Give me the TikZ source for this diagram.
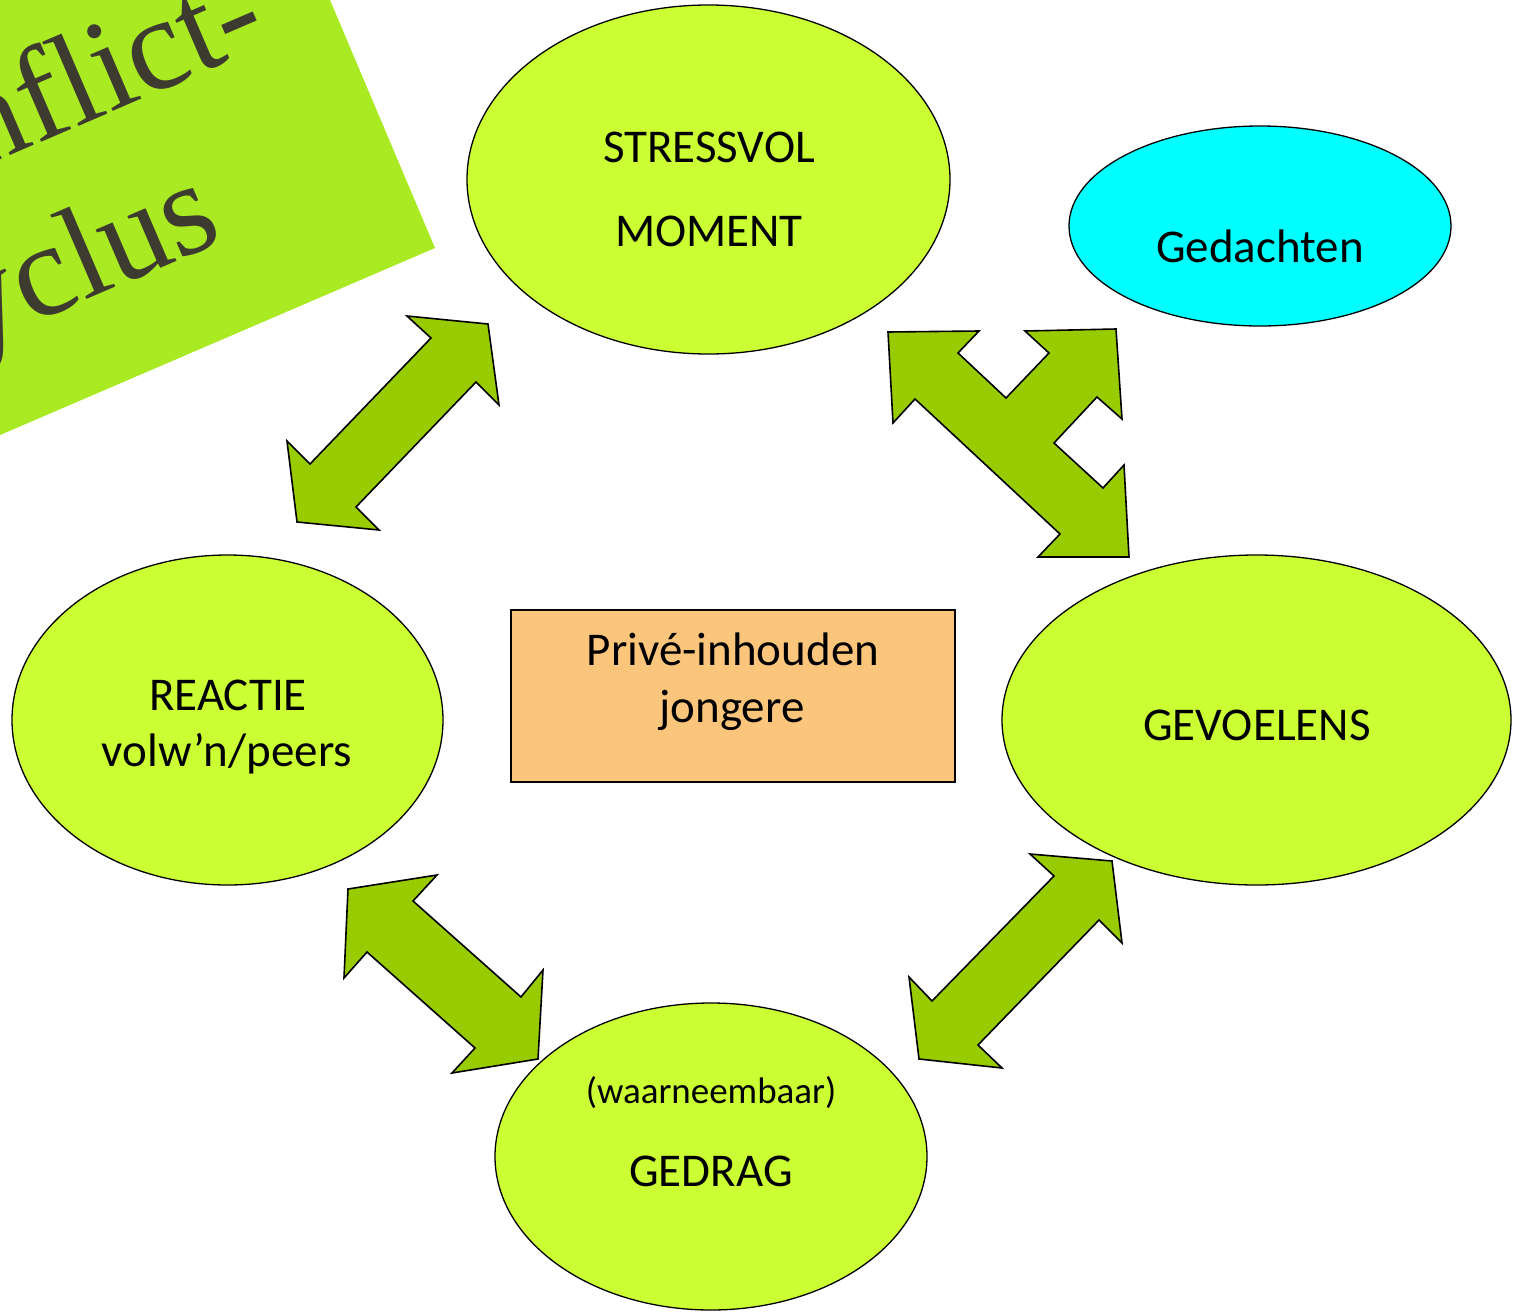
\documentclass[tikz,border=0pt]{standalone}
\usepackage{fontspec}
\setmainfont{Carlito}
\newfontfamily\titlefont{Liberation Serif}
\usetikzlibrary{shapes.geometric}
\definecolor{ellgreen}{HTML}{CCFF33}
\definecolor{arrgreen}{HTML}{99CC00}
\definecolor{titlegreen}{HTML}{AAEA23}
\definecolor{titletext}{HTML}{3D3B30}
\definecolor{cyanfill}{HTML}{00FFFF}
\definecolor{boxorange}{HTML}{FCC57C}
\tikzset{
  ell/.style={ellipse, draw=black, line width=1.3pt, inner sep=0pt},
  blockarrow/.style={draw=black, fill=arrgreen, line width=1.6pt, line join=miter},
  lbl/.style={anchor=base, inner sep=0pt, font=\fontsize{47}{56}\selectfont},
  lblsmall/.style={anchor=base, inner sep=0pt, font=\fontsize{37}{44}\selectfont},
  ttl/.style={anchor=base east, inner sep=0pt, rotate=23.3, text=titletext,
    font=\titlefont\fontsize{132}{158}\selectfont}
}
\begin{document}
\begin{tikzpicture}[x=1pt,y=-1pt]
\useasboundingbox (0,0) rectangle (1519,1312);
\clip (0,0) rectangle (1519,1312);
% title block
\fill[titlegreen] (435,248) -- (225,-248) -- (-800,-248) -- (-800,779) -- cycle;
\node[ttl] (t1) at (272,43) {Conflict-};
\node[ttl] (t2) at (226,240) {cyclus};
% ellipses
\node[ell, fill=ellgreen, minimum width=483, minimum height=349] (stress) at (708.5,179.5) {};
\node[ell, fill=cyanfill, minimum width=382, minimum height=200] (ged) at (1260,226) {};
\node[ell, fill=ellgreen, minimum width=431, minimum height=330] (reac) at (227.5,720) {};
\node[ell, fill=ellgreen, minimum width=509, minimum height=330] (gevo) at (1256.5,720) {};
\node[ell, fill=ellgreen, minimum width=432, minimum height=307] (gedr) at (711,1156.5) {};
% central box
\node[draw=black, line width=1.3pt, fill=boxorange, minimum width=444, minimum height=172, inner sep=0pt] (box) at (733,696) {};
% labels
\node[lbl] (s1) at (709,162) {STRESSVOL};
\node[lbl] (s2) at (709,246) {MOMENT};
\node[lbl] (g1) at (1260,262) {Gedachten};
\node[lbl] (r1) at (228,710) {REACTIE};
\node[lbl] (r2) at (227,766) {volw’n/peers};
\node[lbl] (p1) at (733,665) {Privé-inhouden};
\node[lbl] (p2) at (732,722) {jongere};
\node[lbl] (v1) at (1257,740) {GEVOELENS};
\node[lblsmall] (w1) at (711,1103) {(waarneembaar)};
\node[lbl] (w2) at (711,1186) {GEDRAG};
% block arrows
\draw[blockarrow] (488,324) -- (499,405) -- (476,382) -- (356,507) -- (379,530) -- (297,522) -- (287,441) -- (310,464) -- (431,338) -- (407,316) -- cycle;
\draw[blockarrow] (888,332) -- (979,331) -- (958,353) -- (1006,398) -- (1049,353) -- (1025,331) -- (1116,329) -- (1122,419) -- (1097,397) -- (1054,443) -- (1103,488) -- (1124,465) -- (1129,557) -- (1038,557) -- (1060,534) -- (915,399) -- (893,423) -- cycle;
\draw[blockarrow] (348,889) -- (437,875) -- (413,901) -- (521,997) -- (543,970) -- (538,1059) -- (452,1073) -- (475,1048) -- (367,952) -- (344,978) -- cycle;
\draw[blockarrow] (1112,861) -- (1122,943) -- (1099,920) -- (978,1045) -- (1002,1068) -- (919,1059) -- (909,977) -- (932,1001) -- (1054,876) -- (1030,854) -- cycle;
\end{tikzpicture}
\end{document}
